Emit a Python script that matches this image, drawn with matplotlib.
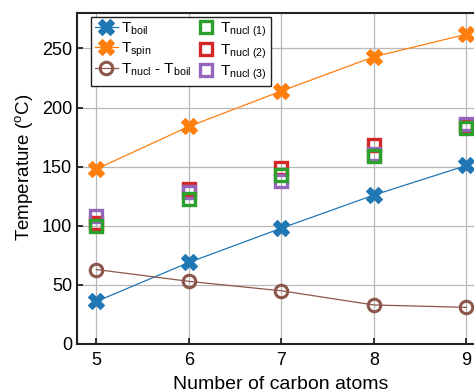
import matplotlib
matplotlib.use("Agg")
import matplotlib.pyplot as plt

plt.rcParams['font.family'] = ['Liberation Sans', 'DejaVu Sans']
plt.rcParams['mathtext.fontset'] = 'custom'
plt.rcParams['mathtext.rm'] = 'Liberation Sans'
plt.rcParams['mathtext.it'] = 'Liberation Sans:italic'

carbons = [5, 6, 7, 8, 9]
t_boil = [36, 69, 98, 126, 151]
t_spin = [148, 184, 214, 243, 262]
t_diff = [63, 53, 45, 33, 31]
t_nucl1 = [100, 123, 143, 159, 183]
t_nucl2 = [102, 131, 149, 168, 184]
t_nucl3 = [108, 129, 138, 161, 186]

fig = plt.figure(figsize=(4.74, 3.91), dpi=100)
ax = fig.add_axes([77/474, 47/391, 407/474, 331/391])

ax.grid(True, color='#b8b8b8', lw=0.9, zorder=0)
ax.set_axisbelow(True)

h1, = ax.plot(carbons, t_boil, color='#1f77b4', lw=0.9, marker='X', ms=11, mec='#1f77b4', mew=0.8, zorder=3,
              label=r'T$_{\rm boil}$')
h2, = ax.plot(carbons, t_spin, color='#ff7f0e', lw=0.9, marker='X', ms=11, mec='#ff7f0e', mew=0.8, zorder=3,
              label=r'T$_{\rm spin}$')
h3, = ax.plot(carbons, t_diff, color='#8c564b', lw=0.9, marker='o', ms=9, mfc='none', mew=2.2, zorder=3,
              label=r'T$_{\rm nucl}$ - T$_{\rm boil}$')
h5, = ax.plot(carbons, t_nucl2, ls='none', color='#d62728', marker='s', ms=9, mfc='none', mew=2.4, zorder=4,
              label=r'T$_{\rm nucl\ (2)}$')
h6, = ax.plot(carbons, t_nucl3, ls='none', color='#9467bd', marker='s', ms=9, mfc='none', mew=2.4, zorder=5,
              label=r'T$_{\rm nucl\ (3)}$')
h4, = ax.plot(carbons, t_nucl1, ls='none', color='#2ca02c', marker='s', ms=9, mfc='none', mew=2.4, zorder=6,
              label=r'T$_{\rm nucl\ (1)}$')

leg = ax.legend(handles=[h1, h2, h3, h4, h5, h6], ncol=2, loc='upper left',
                bbox_to_anchor=(14/407, 1 - 4/331), fontsize=11, frameon=True, fancybox=False,
                edgecolor='#222222', framealpha=1, handlelength=1.5, handletextpad=0.2,
                columnspacing=0.2, labelspacing=0.2, borderpad=0.25, borderaxespad=0)
leg.get_frame().set_linewidth(1.0)

ax.set_xlim(4.79, 9.19)
ax.set_ylim(0, 280)
ax.set_xticks(carbons)
ax.set_yticks([0, 50, 100, 150, 200, 250])
ax.tick_params(direction='in', length=4, width=1.3, labelsize=13, color='#222222')
ax.tick_params(axis='y', pad=3.5)
ax.tick_params(axis='x', pad=6)
for s in ['left', 'bottom', 'top', 'right']:
    ax.spines[s].set_linewidth(1.5)
    ax.spines[s].set_color('#222222')

ax.set_xlabel('Number of carbon atoms', fontsize=14, labelpad=5)
ax.set_ylabel(r'Temperature ($^{\rm o}$C)', fontsize=13.5)
ax.yaxis.set_label_coords(-42/407, 0.535)

fig.savefig('out.png', dpi=100)
